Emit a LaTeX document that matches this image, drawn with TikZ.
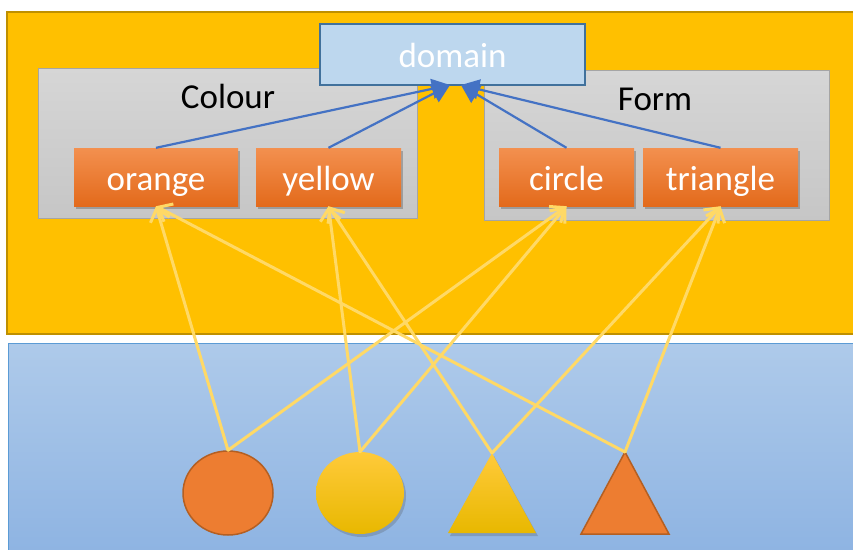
\documentclass[tikz,border=0pt]{standalone}
\usepackage{fontspec}
\setmainfont{Carlito}
\usetikzlibrary{arrows.meta,shadows,calc,shapes.geometric}

\definecolor{panelgold}{HTML}{FFC000}
\definecolor{panelgoldedge}{HTML}{BF9000}
\definecolor{skytop}{HTML}{AECAEA}
\definecolor{skybottom}{HTML}{8DB3E2}
\definecolor{skyedge}{HTML}{5B9BD5}
\definecolor{domfill}{HTML}{BDD7EE}
\definecolor{domedge}{HTML}{41719C}
\definecolor{greytop}{HTML}{D6D6D6}
\definecolor{greybottom}{HTML}{C6C6C6}
\definecolor{greyedge}{HTML}{A5A5A5}
\definecolor{tagtop}{HTML}{F3904F}
\definecolor{tagbottom}{HTML}{E36A1B}
\definecolor{linkblue}{HTML}{4472C4}
\definecolor{linkyellow}{HTML}{FFD966}
\definecolor{shapeorange}{HTML}{ED7D31}
\definecolor{shapeorangeedge}{HTML}{B45F22}
\definecolor{shapeyellowtop}{HTML}{FFCA3A}
\definecolor{shapeyellowbottom}{HTML}{E8B800}

\tikzset{
  bigtext/.style={font=\fontsize{35}{40}\selectfont},
  groupbox/.style={draw=greyedge, line width=1pt, top color=greytop, bottom color=greybottom, inner sep=0pt},
  grouplabel/.style={bigtext, text=black},
  tagbox/.style={top color=tagtop, bottom color=tagbottom, draw=none, text=white, bigtext,
                 minimum height=58pt, inner sep=0pt, text height=30pt, text depth=4pt,
                 drop shadow={shadow xshift=2pt, shadow yshift=-3pt, opacity=0.35, fill=black!70}},
  domainbox/.style={fill=domfill, draw=domedge, line width=1.5pt, text=white, bigtext,
                    minimum width=265pt, minimum height=61pt, inner sep=0pt,
                    text height=29pt, text depth=4pt},
  uplink/.style={draw=linkblue, line width=2.2pt, -{Triangle[length=18pt,width=20pt]}},
  featlink/.style={draw=linkyellow, line width=3pt, line cap=round,
                   -{Straight Barb[length=12pt,width=20pt,line width=3pt]}},
  softshadow/.style={drop shadow={shadow xshift=2pt, shadow yshift=-3pt, opacity=0.25, fill=black!70}},
}

\begin{document}
\begin{tikzpicture}[x=1pt, y=-1pt]
\useasboundingbox (0,0) rectangle (853,549);
\clip (0,0) rectangle (853,549);

% backgrounds: upper (labels) and lower (objects) panels
\path[fill=panelgold, draw=panelgoldedge, line width=2pt] (7,12) rectangle (870,334);
\path[top color=skytop, bottom color=skybottom, draw=skyedge, line width=1pt] (8,343) rectangle (870,560);

% feature groups
\node[groupbox, minimum width=379pt, minimum height=150pt] (colourgrp) at (227.5,143) {};
\node[grouplabel] (colourlbl) at (228,96) {Colour};
\node[groupbox, minimum width=345pt, minimum height=150pt] (formgrp) at (656.5,145) {};
\node[grouplabel] (formlbl) at (655,99) {Form};

% domain
\node[domainbox] (domain) at (452.5,54.5) {domain};
\coordinate (dl) at (450,85);
\coordinate (dr) at (461,85);

% feature values
\node[tagbox, minimum width=164pt] (orange) at (156,177) {orange};
\node[tagbox, minimum width=145pt] (yellow) at (328.5,177) {yellow};
\node[tagbox, minimum width=135pt] (circle) at (566.5,177) {circle};
\node[tagbox, minimum width=155pt] (triangle) at (720.5,177) {triangle};

% values belong to the domain
\draw[uplink] (orange.north) -- (dl);
\draw[uplink] (yellow.north) -- (dl);
\draw[uplink] (circle.north) -- (dr);
\draw[uplink] (triangle.north) -- (dr);

% objects
\node[ellipse, draw=shapeorangeedge, line width=1.5pt, fill=shapeorange,
      minimum width=90pt, minimum height=84pt, inner sep=0pt] (objA) at (228,493) {};
\node[ellipse, top color=shapeyellowtop, bottom color=shapeyellowbottom, softshadow,
      minimum width=88pt, minimum height=82pt, inner sep=0pt] (objB) at (360,493) {};
\path[top color=shapeyellowtop, bottom color=shapeyellowbottom, softshadow]
  (492,453) -- (536,533) -- (448,533) -- cycle;
\coordinate (objC) at (492,453);
\path[fill=shapeorange, draw=shapeorangeedge, line width=1.5pt, line join=miter]
  (625,452) -- (669,534) -- (581,534) -- cycle;
\coordinate (objD) at (625,452);

% objects carry feature values
\draw[featlink] (objA.north) -- (orange.south);
\draw[featlink] (objA.north) -- (circle.south);
\draw[featlink] (objB.north) -- (yellow.south);
\draw[featlink] (objB.north) -- (circle.south);
\draw[featlink] (objC) -- (yellow.south);
\draw[featlink] (objC) -- (triangle.south);
\draw[featlink] (objD) -- (orange.south);
\draw[featlink] (objD) -- (triangle.south);
\end{tikzpicture}
\end{document}
